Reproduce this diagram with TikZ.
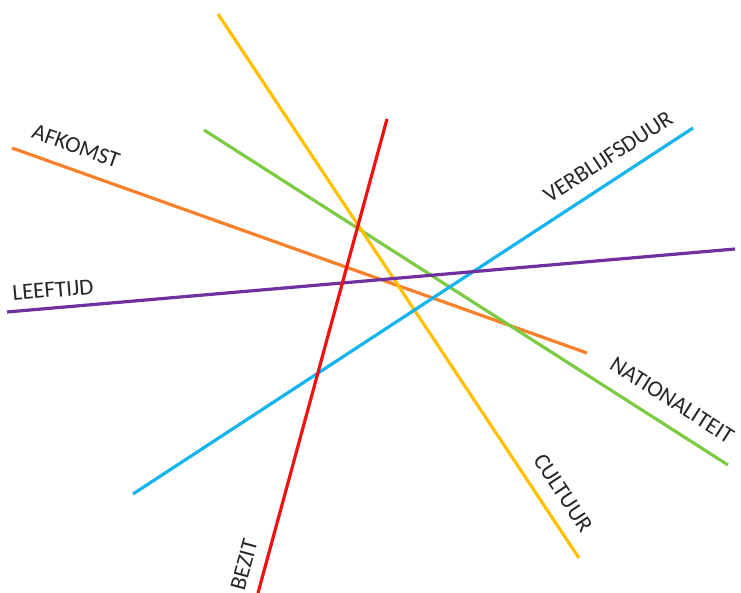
\documentclass[tikz,border=0pt]{standalone}
\usepackage{fontspec}
\setmainfont{Carlito}
\definecolor{oranje}{HTML}{F7802A}
\definecolor{paars}{HTML}{7030A0}
\definecolor{blauw}{HTML}{14B4EC}
\definecolor{groen}{HTML}{7DCB45}
\definecolor{geel}{HTML}{FFC000}
\definecolor{rood}{HTML}{F21010}
\begin{document}
\begin{tikzpicture}[x=1pt, y=-1pt, line width=3.2pt, every node/.style={font=\fontsize{23}{23}\selectfont, text=black!85, inner sep=1pt}]
	% 0. kader
	\useasboundingbox (0,0) rectangle (741,593);
	
	% 1. eindpunten van de lijnen
	\coordinate (afA) at (12,148);   \coordinate (afB) at (587,353);
	\coordinate (leA) at (7,312);    \coordinate (leB) at (735,249);
	\coordinate (veA) at (133,494);  \coordinate (veB) at (693,128);
	\coordinate (naA) at (204,130);  \coordinate (naB) at (728,465);
	\coordinate (cuA) at (218,14);   \coordinate (cuB) at (579,558);
	\coordinate (beA) at (387,119);  \coordinate (beB) at (258,593);
	
	% 2. lijnen
	\draw[oranje] (afA) -- (afB);
	\draw[groen] (naA) -- (naB);
	\draw[geel] (cuA) -- (cuB);
	\draw[blauw] (veA) -- (veB);
	\draw[paars] (leA) -- (leB);
	\draw[rood] (beA) -- (beB);
	
	% 3. labels
	\node[rotate=-19.6] (afkomst) at (76,146) {AFKOMST};
	\node[rotate=4.9] (leeftijd) at (53,290) {LEEFTIJD};
	\node[rotate=33.2] (verblijf) at (608,157) {VERBLIJFSDUUR};
	\node[rotate=-32.5] (nation) at (672,400) {NATIONALITEIT};
	\node[rotate=-56.5] (cultuur) at (563,493) {CULTUUR};
	\node[rotate=74.7] (bezit) at (244,565) {BEZIT};
\end{tikzpicture}
\end{document}
